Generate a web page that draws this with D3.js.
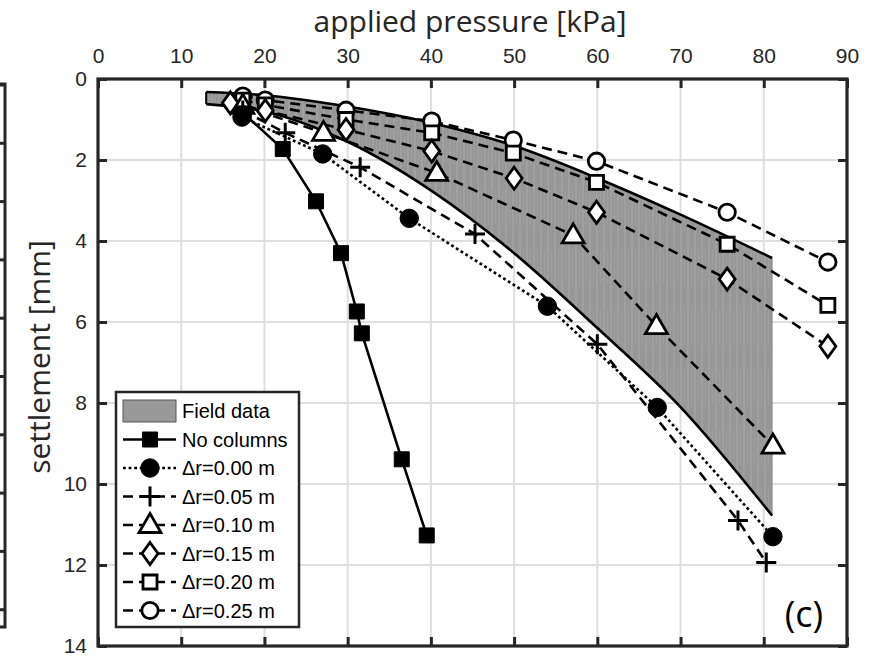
<!DOCTYPE html>
<html>
<head>
<meta charset="utf-8">
<script src="https://cdn.jsdelivr.net/npm/d3@7"></script>
<style>
  body { margin: 0; background: #fff; }
  svg { display: block; }
</style>
</head>
<body>
<div id="chart"></div>
<script>
// axis ticks
const pressureTicks = [0, 10, 20, 30, 40, 50, 60, 70, 80, 90];
const settlementTicks = [0, 2, 4, 6, 8, 10, 12, 14];

// field data envelope [pressure kPa, settlement mm]
const fieldUpper = [[13, 0.32], [20, 0.40], [30, 0.68], [40, 1.08], [50, 1.65], [60, 2.45], [70, 3.35], [81, 4.42]];
const fieldLower = [[13, 0.62], [20, 0.80], [30, 1.55], [40, 2.75], [50, 4.30], [60, 6.15], [70, 8.10], [81, 10.78]];

// model curves
const noColumns = [[17.5, 0.85], [22.2, 1.73], [26.2, 3.02], [29.2, 4.30], [31.1, 5.74], [31.7, 6.28], [36.5, 9.39], [39.5, 11.27]];
const dr000 = [[17.3, 0.94], [27.0, 1.85], [37.4, 3.44], [54.0, 5.61], [67.2, 8.11], [81.1, 11.30]];
const dr005 = [[17.4, 0.78], [22.5, 1.33], [31.5, 2.18], [45.3, 3.83], [60.0, 6.55], [76.9, 10.90], [80.3, 11.94]];
const dr010 = [[17.4, 0.66], [27.1, 1.33], [40.7, 2.32], [57.1, 3.86], [67.1, 6.10], [81.1, 9.05]];
const dr015 = [[15.9, 0.59], [20.1, 0.78], [29.8, 1.25], [40.1, 1.78], [50.0, 2.45], [59.9, 3.29], [75.6, 4.94], [87.7, 6.60]];
const dr020 = [[17.4, 0.52], [20.1, 0.64], [29.8, 1.00], [40.1, 1.33], [49.9, 1.83], [59.9, 2.55], [75.6, 4.08], [87.7, 5.59]];
const dr025 = [[17.4, 0.42], [20.1, 0.52], [29.8, 0.77], [40.1, 1.04], [49.9, 1.51], [59.9, 2.03], [75.6, 3.29], [87.7, 4.52]];

const series = [
  { label: 'No columns', data: noColumns, dash: null, marker: 'square', fill: '#000' },
  { label: '\u0394r=0.00 m', data: dr000, dash: '2.8 2.8', marker: 'circle', fill: '#000' },
  { label: '\u0394r=0.05 m', data: dr005, dash: '10 6', marker: 'plus', fill: 'none' },
  { label: '\u0394r=0.10 m', data: dr010, dash: '10 6', marker: 'triangle', fill: '#fff' },
  { label: '\u0394r=0.15 m', data: dr015, dash: '10 6', marker: 'diamond', fill: '#fff' },
  { label: '\u0394r=0.20 m', data: dr020, dash: '10 6', marker: 'square', fill: '#fff' },
  { label: '\u0394r=0.25 m', data: dr025, dash: '10 6', marker: 'circle', fill: '#fff' }
];

const W = 872, H = 657;
const INK = '#262626';
const TICK_FONT = '"Liberation Sans", Arial, sans-serif';
const LABEL_FONT = '"Open Sans", "Noto Sans", sans-serif';

const x = d3.scaleLinear().domain([0, 90]).range([98, 847]);
const y = d3.scaleLinear().domain([0, 14]).range([79, 646]);
const [x0, x1] = x.range();
const [y0, y1] = y.range();

const svg = d3.select('#chart').append('svg')
  .attr('width', W).attr('height', H)
  .attr('viewBox', `0 0 ${W} ${H}`);

// hatched gray fill for the field band
const defs = svg.append('defs');
const pat = defs.append('pattern')
  .attr('id', 'field-fill')
  .attr('patternUnits', 'userSpaceOnUse')
  .attr('width', 7).attr('height', 60);
pat.append('rect').attr('width', 7).attr('height', 60).attr('fill', '#979797');
pat.append('line').attr('x1', 2).attr('x2', 2).attr('y1', 0).attr('y2', 60)
  .attr('stroke', '#a9a9a9').attr('stroke-width', 1);
pat.append('line').attr('x1', 5.5).attr('x2', 5.5).attr('y1', 10).attr('y2', 45)
  .attr('stroke', '#a1a1a1').attr('stroke-width', 0.8);

// neighbouring panel edge (cut off on the left)
const leftTicks = d3.range(0, 10).map(i => 85 + i * 58.3);
svg.append('path')
  .attr('d', `M0,84 H5 V627 H0`)
  .attr('fill', 'none').attr('stroke', INK).attr('stroke-width', 3);
svg.selectAll('.left-tick').data(leftTicks)
  .join('line')
  .attr('class', 'left-tick')
  .attr('x1', 0).attr('x2', 5)
  .attr('y1', d => d).attr('y2', d => d)
  .attr('stroke', INK).attr('stroke-width', 3);

// grid
const grid = svg.append('g').attr('class', 'grid');
grid.selectAll('.gx').data(pressureTicks)
  .join('line')
  .attr('x1', d => x(d)).attr('x2', d => x(d))
  .attr('y1', y0).attr('y2', y1)
  .attr('stroke', '#dedede').attr('stroke-width', 2);
grid.selectAll('.gy').data(settlementTicks)
  .join('line')
  .attr('x1', x0).attr('x2', x1)
  .attr('y1', d => y(d)).attr('y2', d => y(d))
  .attr('stroke', '#dedede').attr('stroke-width', 2);

// field band
const curve = d3.curveMonotoneX;
const band = d3.area()
  .x((d, i) => x(fieldUpper[i][0]))
  .y0((d, i) => y(fieldLower[i][1]))
  .y1((d, i) => y(fieldUpper[i][1]))
  .curve(curve);
svg.append('path')
  .datum(fieldUpper)
  .attr('d', band)
  .attr('fill', 'url(#field-fill)')
  .attr('stroke', '#777').attr('stroke-width', 0.8);

const edge = d3.line().x(d => x(d[0])).y(d => y(d[1])).curve(curve);
[fieldUpper, fieldLower].forEach(arr => {
  svg.append('path')
    .datum(arr)
    .attr('d', edge)
    .attr('fill', 'none')
    .attr('stroke', '#000')
    .attr('stroke-width', 2.6);
});
svg.append('line')
  .attr('x1', x(fieldUpper[0][0])).attr('x2', x(fieldLower[0][0]))
  .attr('y1', y(fieldUpper[0][1])).attr('y2', y(fieldLower[0][1]))
  .attr('stroke', '#000').attr('stroke-width', 2);

// marker shapes
function markerPath(type, open) {
  switch (type) {
    case 'square': return open ? 'M-7,-7H7V7H-7Z' : 'M-7.5,-7.5H7.5V7.5H-7.5Z';
    case 'circle': return open ? 'M8.2,0A8.2,8.2 0 1,1 -8.2,0A8.2,8.2 0 1,1 8.2,0Z'
                               : 'M9.2,0A9.2,9.2 0 1,1 -9.2,0A9.2,9.2 0 1,1 9.2,0Z';
    case 'triangle': return 'M0,-11.5L11,7.5H-11Z';
    case 'diamond': return 'M0,-11L8,0L0,11L-8,0Z';
    case 'plus': return 'M-10,0H10M0,-10V10';
  }
}

function drawMarker(sel, s) {
  const open = s.fill === '#fff';
  sel.append('path')
    .attr('d', markerPath(s.marker, open))
    .attr('fill', s.fill)
    .attr('stroke', '#000')
    .attr('stroke-width', s.marker === 'plus' ? 3 : (open ? 2.8 : 1));
}

const line = d3.line().x(d => x(d[0])).y(d => y(d[1]));

series.forEach(s => {
  svg.append('path')
    .datum(s.data)
    .attr('d', line)
    .attr('fill', 'none')
    .attr('stroke', '#000')
    .attr('stroke-width', 2.6)
    .attr('stroke-dasharray', s.dash);
});

series.slice().reverse().forEach(s => {
  svg.append('g').selectAll('g').data(s.data)
    .join('g')
    .attr('transform', d => `translate(${x(d[0])},${y(d[1])})`)
    .each(function() { drawMarker(d3.select(this), s); });
});

// frame and ticks
const axes = svg.append('g');
const topAxis = d3.axisTop(x).tickValues(pressureTicks).tickSize(-9).tickPadding(16);
const bottomAxis = d3.axisBottom(x).tickValues(pressureTicks).tickSize(-9).tickFormat('');
const leftAxis = d3.axisLeft(y).tickValues(settlementTicks).tickSize(-9).tickPadding(11);
const rightAxis = d3.axisRight(y).tickValues(settlementTicks).tickSize(-9).tickFormat('');

axes.append('g').attr('transform', `translate(0,${y0})`).call(topAxis);
axes.append('g').attr('transform', `translate(0,${y1})`).call(bottomAxis);
axes.append('g').attr('transform', `translate(${x0},0)`).call(leftAxis);
axes.append('g').attr('transform', `translate(${x1},0)`).call(rightAxis);
axes.selectAll('.domain').remove();
axes.selectAll('.tick line').attr('stroke', INK).attr('stroke-width', 3);
axes.selectAll('.tick text')
  .attr('fill', INK)
  .style('font-family', TICK_FONT)
  .style('font-size', '21px');

svg.append('rect')
  .attr('x', x0).attr('y', y0)
  .attr('width', x1 - x0).attr('height', y1 - y0)
  .attr('fill', 'none')
  .attr('stroke', INK).attr('stroke-width', 3.2);

// axis titles
svg.append('text')
  .attr('x', 470).attr('y', 32)
  .attr('text-anchor', 'middle')
  .attr('fill', INK)
  .style('font-family', LABEL_FONT).style('font-size', '30px')
  .text('applied pressure [kPa]');

svg.append('text')
  .attr('transform', `translate(50,357) rotate(-90)`)
  .attr('text-anchor', 'middle')
  .attr('fill', INK)
  .style('font-family', LABEL_FONT).style('font-size', '30px')
  .text('settlement [mm]');

svg.append('text')
  .attr('x', 804).attr('y', 627)
  .attr('text-anchor', 'middle')
  .attr('fill', '#000')
  .style('font-family', LABEL_FONT).style('font-size', '36px')
  .text('(c)');

// legend
const legend = svg.append('g').attr('transform', 'translate(116,392)');
legend.append('rect')
  .attr('width', 183).attr('height', 235)
  .attr('fill', '#fff')
  .attr('stroke', INK).attr('stroke-width', 2.5);

const rowY = i => 19 + i * 28.5;
legend.append('rect')
  .attr('x', 7).attr('y', rowY(0) - 11)
  .attr('width', 53).attr('height', 22)
  .attr('fill', '#999').attr('stroke', '#555').attr('stroke-width', 1);
legend.append('text')
  .attr('x', 66).attr('y', rowY(0)).attr('dy', '0.35em')
  .attr('fill', '#000')
  .style('font-family', TICK_FONT).style('font-size', '20px')
  .text('Field data');

series.forEach((s, i) => {
  const row = legend.append('g').attr('transform', `translate(0,${rowY(i + 1)})`);
  row.append('line')
    .attr('x1', 7).attr('x2', 60)
    .attr('stroke', '#000').attr('stroke-width', 2.6)
    .attr('stroke-dasharray', s.dash);
  drawMarker(row.append('g').attr('transform', 'translate(34,0)'), s);
  row.append('text')
    .attr('x', 66).attr('dy', '0.35em')
    .attr('fill', '#000')
    .style('font-family', TICK_FONT).style('font-size', '20px')
    .text(s.label);
});
</script>
</body>
</html>
